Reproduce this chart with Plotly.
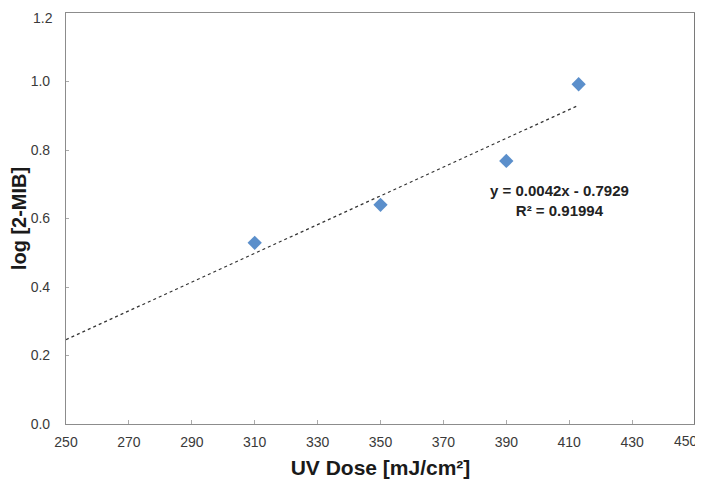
import numpy as np
import plotly.graph_objects as go

uv_dose = [310, 350, 390, 413]
log_mib = [0.529, 0.640, 0.768, 0.992]
trend_x = [250, 413]
equation_text = "<b>y = 0.0042x - 0.7929</b><br><b>R² = 0.91994</b>"
x_ticks = list(range(250, 451, 20))
x_tick_text = [str(v) for v in x_ticks[:-1]] + [""]
last_x_label = str(x_ticks[-1])
y_ticks = [0.0, 0.2, 0.4, 0.6, 0.8, 1.0, 1.2]
y_tick_text = [f"{v:.1f}" for v in y_ticks[:-1]] + [""]
top_y_label = f"{y_ticks[-1]:.1f}"

slope, intercept = np.polyfit(uv_dose, log_mib, 1)
trend_y = [slope * v + intercept for v in trend_x]

tick_font = dict(family="Liberation Sans, Arial", size=14, color="#3a3a3a")

fig = go.Figure()
fig.add_trace(go.Scatter(
    x=trend_x, y=trend_y, mode="lines",
    line=dict(color="#333333", width=1.2, dash="dot"),
    hoverinfo="skip", showlegend=False))
fig.add_trace(go.Scatter(
    x=uv_dose, y=log_mib, mode="markers",
    marker=dict(symbol="diamond", size=11, color="#5B8FCB",
                line=dict(width=0)),
    showlegend=False))

fig.add_annotation(x=407, y=0.652, xref="x", yref="y", text=equation_text,
                   showarrow=False, align="center",
                   font=dict(family="Liberation Sans, Arial", size=15, color="#222222"),
                   yanchor="middle")

# last x tick label, pulled inside the chart edge
fig.add_annotation(x=1, y=0, xref="paper", yref="paper", text=last_x_label,
                   showarrow=False, xanchor="right", yanchor="top",
                   xshift=5, yshift=-7, font=tick_font)

# top y tick label, kept inside the page
fig.add_annotation(x=0, y=1, xref="paper", yref="paper", text=top_y_label,
                   showarrow=False, xanchor="right", yanchor="top",
                   xshift=-11, yshift=5, font=tick_font)

fig.add_shape(type="line", xref="paper", yref="paper", x0=1, x1=1, y0=0, y1=1,
              line=dict(color="#333333", width=1.3))

# page body adds an 8px offset, so the figure is 8px smaller than the window
fig.update_layout(
    width=695, height=476,
    margin=dict(l=58, r=8, t=5, b=60),
    paper_bgcolor="white", plot_bgcolor="white",
    font=tick_font,
    xaxis=dict(range=[250, 450], tickvals=x_ticks, ticktext=x_tick_text,
               showgrid=False, zeroline=False, automargin=False,
               showline=True, linecolor="#8c8c8c", linewidth=1.2, mirror=True,
               ticks="inside", ticklen=4, tickcolor="#aaaaaa", ticklabelstandoff=5,
               tickfont=tick_font,
               title=dict(text="<b>UV Dose [mJ/cm²]</b>", standoff=11,
                          font=dict(size=21, color="#1a1a1a"))),
    yaxis=dict(range=[0, 1.2], tickvals=y_ticks, ticktext=y_tick_text, showgrid=False,
               zeroline=False, automargin=False,
               showline=True, linecolor="#8c8c8c", linewidth=1.2,
               ticks="inside", ticklen=3, tickcolor="#aaaaaa", ticklabelstandoff=12,
               tickfont=tick_font,
               title=dict(text="<b>log [2-MIB]</b>", standoff=8,
                          font=dict(size=20, color="#1a1a1a"))),
)

fig.write_html("out.html")
